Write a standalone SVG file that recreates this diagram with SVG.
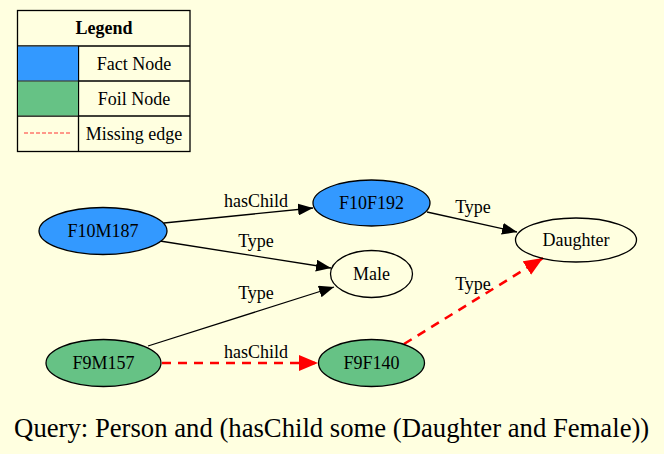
<svg xmlns="http://www.w3.org/2000/svg" width="664" height="454" viewBox="0 0 664 454">
  <style>
    text { font-family: "Liberation Serif", "Times New Roman", serif; font-size: 18px; fill: #000; }
    .c { text-anchor: middle; }
    .node { stroke: #000; stroke-width: 1.3; }
    .fact { fill: #3399ff; }
    .foil { fill: #66c285; }
    .plain { fill: none; }
    .edge { fill: none; stroke: #000; stroke-width: 1.3; }
    .miss { fill: none; stroke: #ff0000; stroke-width: 2.6; stroke-dasharray: 9,7; }
    .grid { fill: none; stroke: #000; stroke-width: 1.3; }
    .caption { font-size: 26.7px; }
  </style>
  <defs>
    <marker id="arr" markerUnits="userSpaceOnUse" markerWidth="16" markerHeight="12" refX="15" refY="6" orient="auto">
      <path d="M0,0 L15,6 L0,12 Z" fill="#000"/>
    </marker>
    <marker id="arrRed" markerUnits="userSpaceOnUse" markerWidth="20" markerHeight="16" refX="19" refY="8" orient="auto">
      <path d="M0,0 L19,8 L0,16 Z" fill="#ff0000"/>
    </marker>
  </defs>

  <rect width="664" height="454" fill="#ffffe0"/>

  <!-- legend table -->
  <g id="legend">
    <rect class="grid" x="17.5" y="10.5" width="172.5" height="141"/>
    <line class="grid" x1="17.5" y1="46" x2="190" y2="46"/>
    <line class="grid" x1="17.5" y1="81" x2="190" y2="81"/>
    <line class="grid" x1="17.5" y1="116" x2="190" y2="116"/>
    <line class="grid" x1="78.5" y1="46" x2="78.5" y2="151.5"/>
    <rect x="18" y="46.6" width="60" height="33.8" fill="#3399ff"/>
    <rect x="18" y="81.6" width="60" height="33.8" fill="#66c285"/>
    <line x1="24" y1="133" x2="72" y2="133" stroke="#ff3333" stroke-width="1" stroke-dasharray="4,2"/>
    <text class="c" x="104" y="34" font-weight="bold">Legend</text>
    <text class="c" x="134" y="70">Fact Node</text>
    <text class="c" x="134" y="105">Foil Node</text>
    <text class="c" x="134" y="140">Missing edge</text>
  </g>

  <!-- connectors -->
  <g id="edges">
    <path class="edge" d="M164,223 L313,208" marker-end="url(#arr)"/>
    <text class="c" x="256" y="207">hasChild</text>
    <path class="edge" d="M160,241 L331,268" marker-end="url(#arr)"/>
    <text class="c" x="256" y="247">Type</text>
    <path class="edge" d="M427,212 L517,232" marker-end="url(#arr)"/>
    <text class="c" x="473" y="213">Type</text>
    <path class="edge" d="M148,346 L334,287" marker-end="url(#arr)"/>
    <text class="c" x="256" y="299">Type</text>
    <path class="miss" d="M162,363 L318,363" marker-end="url(#arrRed)"/>
    <text class="c" x="256" y="358">hasChild</text>
    <path class="miss" d="M404,344 L543,258" marker-end="url(#arrRed)"/>
    <text class="c" x="473" y="290">Type</text>
  </g>

  <!-- nodes -->
  <g id="F10M187">
    <ellipse class="node fact" cx="103" cy="231" rx="64" ry="23.5"/>
    <text class="c" x="103" y="237">F10M187</text>
  </g>
  <g id="F10F192">
    <ellipse class="node fact" cx="371.5" cy="203" rx="58.5" ry="23"/>
    <text class="c" x="371.5" y="209">F10F192</text>
  </g>
  <g id="Male">
    <ellipse class="node plain" cx="371.5" cy="274" rx="41" ry="23.5"/>
    <text class="c" x="371.5" y="280">Male</text>
  </g>
  <g id="Daughter">
    <ellipse class="node plain" cx="576" cy="240" rx="60.5" ry="22"/>
    <text class="c" x="576" y="246">Daughter</text>
  </g>
  <g id="F9M157">
    <ellipse class="node foil" cx="103.5" cy="363" rx="57.5" ry="23.5"/>
    <text class="c" x="103.5" y="369">F9M157</text>
  </g>
  <g id="F9F140">
    <ellipse class="node foil" cx="371.5" cy="363" rx="53" ry="23.5"/>
    <text class="c" x="371.5" y="369">F9F140</text>
  </g>

  <text class="c caption" x="331.7" y="437">Query: Person and (hasChild some (Daughter and Female))</text>
</svg>
